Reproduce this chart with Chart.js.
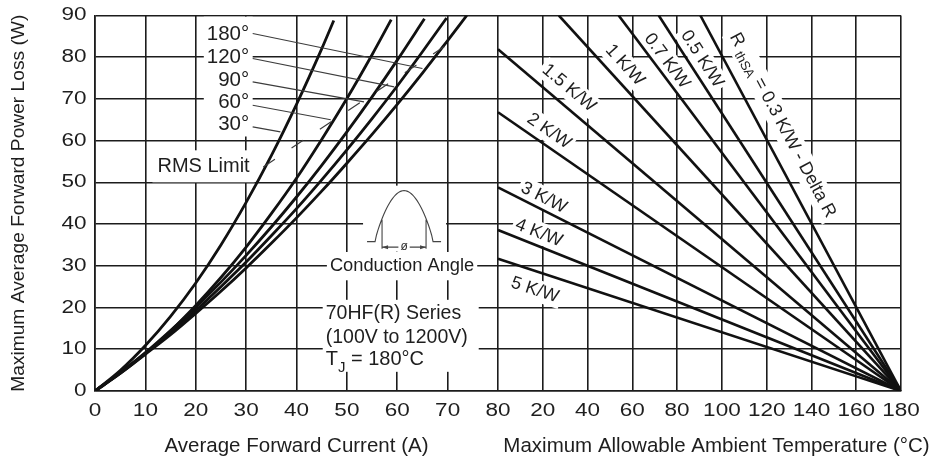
<!DOCTYPE html>
<html><head><meta charset="utf-8">
<script src="https://cdn.jsdelivr.net/npm/chart.js@4"></script>
<style>html,body{margin:0;padding:0;background:#fff}#wrap{width:938px;height:459px;position:relative}</style>
</head><body><div id="wrap"><canvas id="c"></canvas></div>
<script>
// ---------- tick labels ----------
const currentTicks = [0,10,20,30,40,50,60,70,80];
const tempTicks = [20,40,60,80,100,120,140,160,180];
const powerTicks = [0,10,20,30,40,50,60,70,80,90];

// ---------- left panel: power loss vs average current ----------
const angleLabels = ['30°','60°','90°','120°','180°'];
const current30  = [0,5,10,15,20,25,30,35,40,45,47.4];
const power30    = [0,4.9,10.9,17.9,25.9,35.0,45.2,56.4,68.7,82.0,88.8];
const current60  = [0,5,10,15,20,25,30,35,40,45,50,55,58.8];
const power60    = [0,4.2,9.0,14.4,20.5,27.2,34.5,42.5,51.0,60.3,70.1,80.6,89.0];
const current90  = [0,5,10,15,20,25,30,35,40,45,50,55,60,65.4];
const power90    = [0,4.4,9.2,14.5,20.1,26.1,32.5,39.3,46.5,54.1,62.1,70.5,79.3,89.2];
const current120 = [0,5,10,15,20,25,30,35,40,45,50,55,60,65,69.8];
const power120   = [0,4.4,9.0,14.0,19.3,25.0,30.9,37.2,43.7,50.6,57.8,65.3,73.1,81.3,89.4];
const current180 = [0,5,10,15,20,25,30,35,40,45,50,55,60,65,70,73.8];
const power180   = [0,4.2,8.8,13.5,18.6,23.9,29.5,35.4,41.5,47.9,54.6,61.5,68.7,76.2,84.0,90.0];

// leader lines (label -> curve) and RMS limit, in data units
const leaderFromCurrent = [31.3,31.3,31.3,31.3,31.3];
const leaderFromPower   = [63.3,68.5,74.1,79.7,85.7];
const leaderToCurrent   = [36.8,46.8,53.4,59.4,65.0];
const leaderToPower     = [62.1,65.0,69.3,72.9,77.3];
const rmsCurrent = [33.4,70.5];
const rmsPower   = [53.7,83.5];

// ---------- right panel: power loss vs ambient temperature ----------
const rthValues      = ['0.3','0.5','0.7','1','1.5','2','3','4','5'];
const rthStartTemp   = [90.4,71.8,53.9,27.2,0,0,0,0,0];
const rthStartPower  = [90,90,90,90,81.9,66.8,48.8,38.6,31.7];
const junctionTemp   = 180;

// ---------- annotation placement (data units) ----------
const angleLabelPos = {x:30.6, y:[63.9,69.1,74.5,79.9,85.6]};
const rthLabelPos = {t:[125.1,91.1,75.5,56.7,31.7,22.8,20.5,18.3,16.5], p:[64.7,79.6,79.1,78.1,72.6,62.3,46.3,37.9,24.2]};

const FONT = '"Liberation Sans", Arial, Helvetica, sans-serif';
const INK = '#1e1e1e';

function drawText(ctx, str, x, y, o) {
  o = o || {};
  const size = o.size || 18, align = o.align || 'center', st = o.stretch || 1, ang = o.angle || 0;
  ctx.save();
  ctx.translate(x, y);
  ctx.scale(st, 1);
  ctx.rotate(Math.atan2(st*Math.sin(ang), Math.cos(ang)));
  ctx.font = size + 'px ' + FONT;
  ctx.textBaseline = 'middle';
  ctx.textAlign = align;
  if (o.box) {
    const w = ctx.measureText(str).width;
    const x0 = align === 'center' ? -w/2 : (align === 'right' ? -w : 0);
    ctx.fillStyle = '#fff';
    ctx.fillRect(x0 - o.box[0], -size*0.5 - o.box[1], w + 2*o.box[0], size + 2*o.box[1]);
  }
  ctx.fillStyle = o.color || INK;
  ctx.fillText(str, 0, 0);
  ctx.restore();
}

function drawRuns(ctx, runs, x, y, o) {
  // runs: [{t, size, dy}] ; baseline alphabetic at y (+dy)
  o = o || {};
  const ang = o.angle || 0, align = o.align || 'left';
  ctx.save();
  ctx.translate(x, y);
  ctx.rotate(ang);
  ctx.textBaseline = 'alphabetic';
  ctx.textAlign = 'left';
  let total = 0;
  const ws = runs.map(r => { ctx.font = r.size + 'px ' + FONT; const w = ctx.measureText(r.t).width; total += w; return w; });
  let cx = align === 'center' ? -total/2 : 0;
  if (o.box) {
    ctx.fillStyle = '#fff';
    ctx.fillRect(cx - o.box[0], -o.boxTop, total + 2*o.box[0], o.boxTop + o.boxBottom);
  }
  ctx.fillStyle = INK;
  runs.forEach((r, i) => { ctx.font = r.size + 'px ' + FONT; ctx.fillText(r.t, cx, r.dy || 0); cx += ws[i]; });
  ctx.restore();
}

const annotations = {
  id: 'annotations',
  beforeDatasetsDraw(chart) {
    const ctx = chart.ctx, X = chart.scales.x, T = chart.scales.xT, Y = chart.scales.y;
    const ca = chart.chartArea;
    // white block behind angle labels
    ctx.save();
    ctx.fillStyle = '#fff';
    const bx0 = X.getPixelForValue(21.6), bx1 = X.getPixelForValue(31.3);
    ctx.fillRect(bx0, ca.top + 1.2, bx1 - bx0, Y.getPixelForValue(61) - ca.top - 1.2);
    ctx.restore();
    angleLabels.forEach((a, i) => {
      drawText(ctx, a, X.getPixelForValue(angleLabelPos.x), Y.getPixelForValue(angleLabelPos.y[i]), {size:20.5, align:'right'});
    });
    drawText(ctx, 'RMS Limit', X.getPixelForValue(21.55), Y.getPixelForValue(53.85), {size:20, box:[5,6]});

    // conduction angle icon
    const cx = X.getPixelForValue(61.35), by = Y.getPixelForValue(35.8);
    ctx.save();
    ctx.fillStyle = '#fff';
    ctx.fillRect(cx - 41, by - 56, 83, 66);
    ctx.strokeStyle = '#444'; ctx.lineWidth = 1.1;
    ctx.beginPath();
    ctx.moveTo(cx - 37, by); ctx.lineTo(cx - 29, by);
    for (let k = 0; k <= 40; k++) {
      const u = k/40;
      ctx.lineTo(cx - 29 + 58*u, by - 51*Math.pow(Math.sin(Math.PI*u), 0.8));
    }
    ctx.lineTo(cx + 37, by);
    ctx.moveTo(cx - 22, by - 22); ctx.lineTo(cx - 22, by + 7);
    ctx.moveTo(cx + 22, by - 22); ctx.lineTo(cx + 22, by + 7);
    ctx.moveTo(cx - 22, by + 5.5); ctx.lineTo(cx + 22, by + 5.5);
    ctx.stroke();
    ctx.fillStyle = '#444';
    ctx.beginPath(); ctx.moveTo(cx - 22, by + 5.5); ctx.lineTo(cx - 16, by + 3.5); ctx.lineTo(cx - 16, by + 7.5); ctx.fill();
    ctx.beginPath(); ctx.moveTo(cx + 22, by + 5.5); ctx.lineTo(cx + 16, by + 3.5); ctx.lineTo(cx + 16, by + 7.5); ctx.fill();
    ctx.restore();
    drawText(ctx, 'ø', cx, by + 5, {size:12, box:[2,0], color:'#333'});
    drawText(ctx, 'Conduction Angle', cx - 2, by + 24.5, {size:18.3, box:[3,5]});

    // series block
    const ax = X.getPixelForValue(45.8), ay = Y.getPixelForValue(18.5);
    ctx.save(); ctx.fillStyle = '#fff'; ctx.fillRect(ax - 3, ay - 14, 156, 72); ctx.restore();
    drawText(ctx, '70HF(R) Series', ax, ay, {size:19.5, align:'left'});
    drawText(ctx, '(100V to 1200V)', ax, ay + 23.5, {size:19.5, align:'left'});
    drawRuns(ctx, [{t:'T', size:20}, {t:'J', size:15, dy:7}, {t:' = 180°C', size:20}], ax, ay + 51);

    // right panel labels along lines
    rthValues.forEach((r, i) => {
      const p0x = T.getPixelForValue(rthStartTemp[i]), p0y = Y.getPixelForValue(rthStartPower[i]);
      const p1x = T.getPixelForValue(junctionTemp), p1y = Y.getPixelForValue(0);
      const ang = Math.atan2(p1y - p0y, p1x - p0x);
      const lx = T.getPixelForValue(rthLabelPos.t[i]), ly = Y.getPixelForValue(rthLabelPos.p[i]);
      if (i === 0) {
        drawRuns(ctx, [{t:'R ', size:18}, {t:'thSA', size:13, dy:4}, {t:' = 0.3 K/W - Delta R', size:18}], lx, ly + 6.5,
          {angle: ang, align:'center', box:[3,0], boxTop:17, boxBottom:7});
      } else {
        drawText(ctx, r + ' K/W', lx, ly, {size:18, angle: ang, box:[3,2]});
      }
    });
  },
  afterDraw(chart) {
    const ctx = chart.ctx, X = chart.scales.x, T = chart.scales.xT, Y = chart.scales.y;
    const ca = chart.chartArea;
    powerTicks.forEach(v => drawText(ctx, String(v), ca.left - 8.5, Y.getPixelForValue(v), {size:18, align:'right', stretch:1.25}));
    currentTicks.forEach(v => drawText(ctx, String(v), X.getPixelForValue(v), ca.bottom + 20.5, {size:18, stretch:1.25}));
    tempTicks.forEach(v => drawText(ctx, String(v), T.getPixelForValue(v), ca.bottom + 20.5, {size:18, stretch:1.25}));
    drawText(ctx, 'Average Forward Current (A)', X.getPixelForValue(40), ca.bottom + 55, {size:20.5});
    drawText(ctx, 'Maximum Allowable Ambient Temperature (°C)', T.getPixelForValue(97.6), ca.bottom + 55, {size:20.5});
    ctx.save();
    ctx.translate(19, (ca.top + ca.bottom)/2 + 0);
    ctx.rotate(-Math.PI/2);
    ctx.font = '19.2px ' + FONT; ctx.fillStyle = INK; ctx.textAlign = 'center'; ctx.textBaseline = 'middle';
    ctx.fillText('Maximum Average Forward Power Loss (W)', 0, 0);
    ctx.restore();
  }
};

const pts = (xs, ys) => xs.map((x, i) => ({x, y: ys[i]}));
const datasets = [];
// thin leader lines
angleLabels.forEach((a, i) => datasets.push({
  data: [{x: leaderFromCurrent[i], y: leaderFromPower[i]}, {x: leaderToCurrent[i], y: leaderToPower[i]}],
  xAxisID: 'x', showLine: true, borderColor: '#3c3c3c', borderWidth: 1.1, pointRadius: 0
}));
datasets.push({data: pts(rmsCurrent, rmsPower), xAxisID: 'x', showLine: true, borderColor: '#3c3c3c', borderWidth: 1.2, borderDash: [14, 20], pointRadius: 0});
// conduction-angle curves
[[current30, power30], [current60, power60], [current90, power90], [current120, power120], [current180, power180]].forEach((c, i) => datasets.push({
  label: angleLabels[i], data: pts(c[0], c[1]), xAxisID: 'x', showLine: true,
  borderColor: '#111', borderWidth: 2.8, pointRadius: 0, cubicInterpolationMode: 'monotone'
}));
// thermal resistance lines
rthValues.forEach((r, i) => datasets.push({
  label: r + ' K/W', data: [{x: rthStartTemp[i], y: rthStartPower[i]}, {x: junctionTemp, y: 0}], xAxisID: 'xT',
  showLine: true, borderColor: '#111', borderWidth: 2.6, pointRadius: 0
}));

const gridStyle = {color: '#1c1c1c', lineWidth: 1.6, drawTicks: false};
new Chart(document.getElementById('c'), {
  type: 'scatter',
  data: {datasets},
  plugins: [annotations],
  options: {
    responsive: true, maintainAspectRatio: false, animation: false, events: [],
    layout: {padding: {left: 95, right: 37, top: 15.5, bottom: 68}},
    plugins: {legend: {display: false}, tooltip: {enabled: false}},
    scales: {
      x: {type: 'linear', min: 0, max: 160, position: 'bottom',
          afterBuildTicks: s => { s.ticks = currentTicks.map(v => ({value: v})); },
          ticks: {display: false}, grid: gridStyle, border: {display: true, color: '#1c1c1c', width: 1.6}},
      xT: {type: 'linear', min: -180, max: 180, position: 'bottom',
          afterBuildTicks: s => { s.ticks = tempTicks.map(v => ({value: v})); },
          ticks: {display: false}, grid: gridStyle, border: {display: false}},
      y: {type: 'linear', min: 0, max: 90,
          afterBuildTicks: s => { s.ticks = powerTicks.map(v => ({value: v})); },
          ticks: {display: false}, grid: gridStyle, border: {display: true, color: '#1c1c1c', width: 1.6}}
    }
  }
});
</script></body></html>
